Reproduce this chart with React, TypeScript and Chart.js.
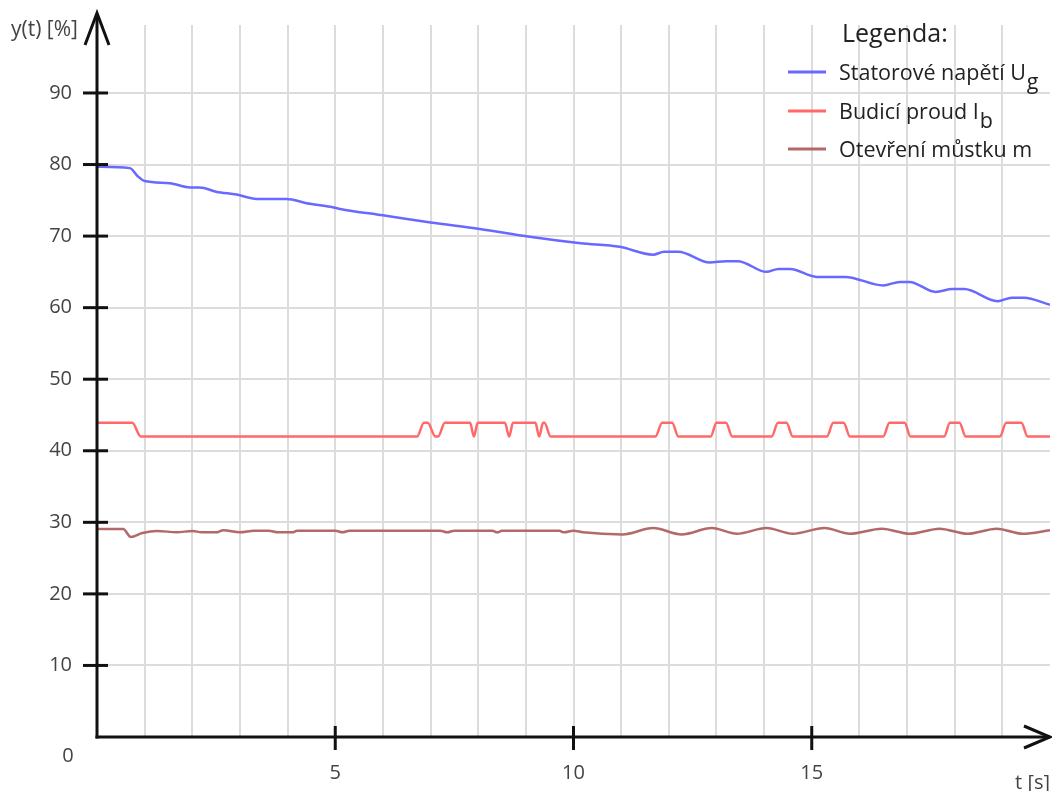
import React, { useEffect, useRef } from 'react';
import { Chart, registerables } from 'chart.js';

Chart.register(...registerables);

// ---- data ----
const tStator = [0, 0.69, 0.85, 1.0, 1.53, 1.95, 2.16, 2.5, 2.93, 3.35, 3.98, 4.4, 4.9, 5.1, 6.0, 7.0, 8.03, 9.08, 10.15, 10.97, 11.67, 11.9, 12.2, 12.86, 13.2, 13.45, 14.05, 14.3, 14.55, 15.1, 15.7, 16.5, 16.85, 17.05, 17.6, 17.95, 18.2, 18.9, 19.2, 19.45, 20];
const uStator = [79.7, 79.5, 78.4, 77.7, 77.4, 76.8, 76.8, 76.2, 75.8, 75.2, 75.2, 74.6, 74.1, 73.8, 72.9, 71.9, 71.0, 69.9, 69.0, 68.5, 67.4, 67.8, 67.8, 66.3, 66.5, 66.5, 65.0, 65.4, 65.4, 64.3, 64.3, 63.1, 63.6, 63.6, 62.2, 62.6, 62.6, 60.9, 61.4, 61.4, 60.4];

const tBudici = [0, 0.74, 0.92, 6.72, 6.86, 6.94, 7.1, 7.16, 7.3, 7.83, 7.91, 7.99, 8.56, 8.65, 8.73, 9.2, 9.28, 9.36, 9.39, 9.52, 11.72, 11.86, 12.07, 12.2, 12.88, 13.0, 13.2, 13.33, 14.16, 14.29, 14.47, 14.6, 15.32, 15.45, 15.67, 15.8, 16.5, 16.63, 16.95, 17.07, 17.78, 17.9, 18.1, 18.23, 18.95, 19.08, 19.4, 19.53, 20];
const iBudici = [43.9, 43.9, 42.0, 42.0, 43.9, 43.9, 42.0, 42.0, 43.9, 43.9, 42.0, 43.9, 43.9, 42.0, 43.9, 43.9, 42.0, 43.9, 43.9, 42.0, 42.0, 43.9, 43.9, 42.0, 42.0, 43.9, 43.9, 42.0, 42.0, 43.9, 43.9, 42.0, 42.0, 43.9, 43.9, 42.0, 42.0, 43.9, 43.9, 42.0, 42.0, 43.9, 43.9, 42.0, 42.0, 43.9, 43.9, 42.0, 42.0];

const tMustek = [0, 0.55, 0.71, 0.95, 1.26, 1.68, 2.0, 2.2, 2.5, 2.65, 3.0, 3.3, 3.6, 3.8, 4.1, 4.2, 5.0, 5.15, 5.3, 7.2, 7.35, 7.5, 8.3, 8.4, 8.5, 9.7, 9.8, 10.0, 10.2, 11.03, 11.67, 12.27, 12.9, 13.43, 14.05, 14.6, 15.27, 15.8, 16.47, 17.06, 17.68, 18.27, 18.88, 19.43, 20];
const mMustek = [29.07, 29.07, 27.95, 28.5, 28.8, 28.6, 28.8, 28.6, 28.6, 28.9, 28.6, 28.83, 28.83, 28.6, 28.6, 28.83, 28.83, 28.6, 28.83, 28.83, 28.6, 28.83, 28.83, 28.6, 28.83, 28.83, 28.6, 28.83, 28.6, 28.3, 29.2, 28.3, 29.2, 28.4, 29.2, 28.4, 29.2, 28.4, 29.1, 28.4, 29.1, 28.4, 29.1, 28.4, 28.9];

const yTickValues = [10, 20, 30, 40, 50, 60, 70, 80, 90];
const xGridValues = [1, 2, 3, 4, 5, 6, 7, 8, 9, 10, 11, 12, 13, 14, 15, 16, 17, 18, 19];
const xLabelValues = [5, 10, 15];

const seriesLabels = ['Statorové napětí U', 'Budicí proud I', 'Otevření můstku m'];
const seriesSubs = ['g', 'b', ''];
const seriesColors = ['rgb(105,105,255)', 'rgb(255,105,105)', 'rgb(180,105,105)'];
const legendTitle = 'Legenda:';
const yAxisTitle = 'y(t) [%]';
const xAxisTitle = 't [s]';
const originLabel = '0';

const FONT = '"Open Sans", "Noto Sans", sans-serif';

export default function App() {
  const ref = useRef<HTMLCanvasElement>(null);

  useEffect(() => {
    document.body.style.margin = '0';
    const toPts = (t: number[], v: number[]) => t.map((x, i) => ({ x, y: v[i] }));

    const overlay = {
      id: 'overlay',
      afterDraw(chart: any) {
        const ctx = chart.ctx as CanvasRenderingContext2D;
        const xs = chart.scales.x;
        const ys = chart.scales.y;
        const x0 = xs.getPixelForValue(0);
        const y0 = ys.getPixelForValue(0);
        const xEnd = xs.getPixelForValue(20);
        ctx.save();
        ctx.strokeStyle = '#111';
        ctx.lineWidth = 3;
        ctx.lineCap = 'butt';
        ctx.lineJoin = 'miter';
        // y axis
        ctx.beginPath();
        ctx.moveTo(x0, y0 + 1.5);
        ctx.lineTo(x0, 14);
        ctx.stroke();
        ctx.beginPath();
        ctx.moveTo(x0 - 12, 45);
        ctx.lineTo(x0, 13);
        ctx.lineTo(x0 + 12, 45);
        ctx.stroke();
        // x axis
        ctx.beginPath();
        ctx.moveTo(x0 - 1.5, y0);
        ctx.lineTo(xEnd, y0);
        ctx.stroke();
        ctx.beginPath();
        ctx.moveTo(xEnd - 26, y0 - 11);
        ctx.lineTo(xEnd, y0);
        ctx.lineTo(xEnd - 26, y0 + 11);
        ctx.stroke();
        // tick bars
        yTickValues.forEach((v) => {
          const p = ys.getPixelForValue(v);
          ctx.beginPath();
          ctx.moveTo(x0 - 14, p);
          ctx.lineTo(x0 + 11, p);
          ctx.stroke();
        });
        xLabelValues.forEach((v) => {
          const p = xs.getPixelForValue(v);
          ctx.beginPath();
          ctx.moveTo(p, y0 - 11);
          ctx.lineTo(p, y0 + 13);
          ctx.stroke();
        });
        // texts
        ctx.fillStyle = '#444';
        ctx.font = `20px ${FONT}`;
        ctx.textAlign = 'center';
        ctx.textBaseline = 'middle';
        ctx.fillText(originLabel, x0 - 29, y0 + 19);
        ctx.font = `21px ${FONT}`;
        ctx.textAlign = 'left';
        ctx.textBaseline = 'alphabetic';
        ctx.fillText(yAxisTitle, 11, 36);
        ctx.font = `20px ${FONT}`;
        ctx.textAlign = 'right';
        ctx.fillText(xAxisTitle, 1050, 789);

        // legend
        ctx.fillStyle = '#222';
        ctx.textAlign = 'left';
        ctx.font = `25px ${FONT}`;
        ctx.fillText(legendTitle, 842, 42);
        ctx.font = `21.5px ${FONT}`;
        const rowY = [72, 111, 149];
        const baseY = [80, 119, 157];
        chart.data.datasets.forEach((ds: any, i: number) => {
          ctx.strokeStyle = ds.borderColor;
          ctx.lineWidth = 3;
          ctx.beginPath();
          ctx.moveTo(788, rowY[i]);
          ctx.lineTo(826, rowY[i]);
          ctx.stroke();
          ctx.fillStyle = '#222';
          const label = seriesLabels[i];
          ctx.fillText(label, 839, baseY[i]);
          const w = ctx.measureText(label).width;
          if (seriesSubs[i]) ctx.fillText(seriesSubs[i], 839 + w + 1, baseY[i] + 9);
        });
        ctx.restore();
      },
    };

    const zeroPad = (s: any) => {
      s.paddingTop = 0;
      s.paddingBottom = 0;
      s.paddingLeft = 0;
      s.paddingRight = 0;
    };

    const chart = new Chart(ref.current as HTMLCanvasElement, {
      type: 'line',
      data: {
        datasets: [
          { label: seriesLabels[0] + seriesSubs[0], data: toPts(tStator, uStator), borderColor: seriesColors[0], borderWidth: 2.5, pointRadius: 0, cubicInterpolationMode: 'monotone' },
          { label: seriesLabels[1] + seriesSubs[1], data: toPts(tBudici, iBudici), borderColor: seriesColors[1], borderWidth: 2.5, pointRadius: 0, cubicInterpolationMode: 'monotone' },
          { label: seriesLabels[2] + seriesSubs[2], data: toPts(tMustek, mMustek), borderColor: seriesColors[2], borderWidth: 2.5, pointRadius: 0, cubicInterpolationMode: 'monotone' },
        ],
      },
      options: {
        animation: false,
        responsive: false,
        devicePixelRatio: 1,
        layout: { padding: { left: 0, top: 25, right: 2, bottom: 0 } },
        plugins: { legend: { display: false }, tooltip: { enabled: false } },
        scales: {
          x: {
            type: 'linear',
            min: 0,
            max: 20,
            afterBuildTicks: (s: any) => { s.ticks = xGridValues.map((v) => ({ value: v })); },
            afterFit: (s: any) => { s.height = 54; zeroPad(s); },
            border: { display: false },
            grid: { color: '#dcdcdc', lineWidth: 2, drawTicks: false },
            ticks: {
              autoSkip: false,
              maxRotation: 0,
              padding: 24,
              color: '#444',
              font: { family: FONT, size: 20 },
              callback: (v: any) => (xLabelValues.includes(Number(v)) ? String(v) : ''),
            },
          },
          y: {
            type: 'linear',
            min: 0,
            max: 99.5,
            afterBuildTicks: (s: any) => { s.ticks = yTickValues.map((v) => ({ value: v })); },
            afterFit: (s: any) => { s.width = 97; zeroPad(s); },
            border: { display: false },
            grid: { color: '#dcdcdc', lineWidth: 2, drawTicks: false },
            ticks: {
              autoSkip: false,
              padding: 25,
              color: '#444',
              font: { family: FONT, size: 20 },
              callback: (v: any) => String(v),
            },
          },
        },
      },
      plugins: [overlay],
    });
    return () => chart.destroy();
  }, []);

  return <canvas ref={ref} width={1052} height={791} style={{ display: 'block' }} />;
}
